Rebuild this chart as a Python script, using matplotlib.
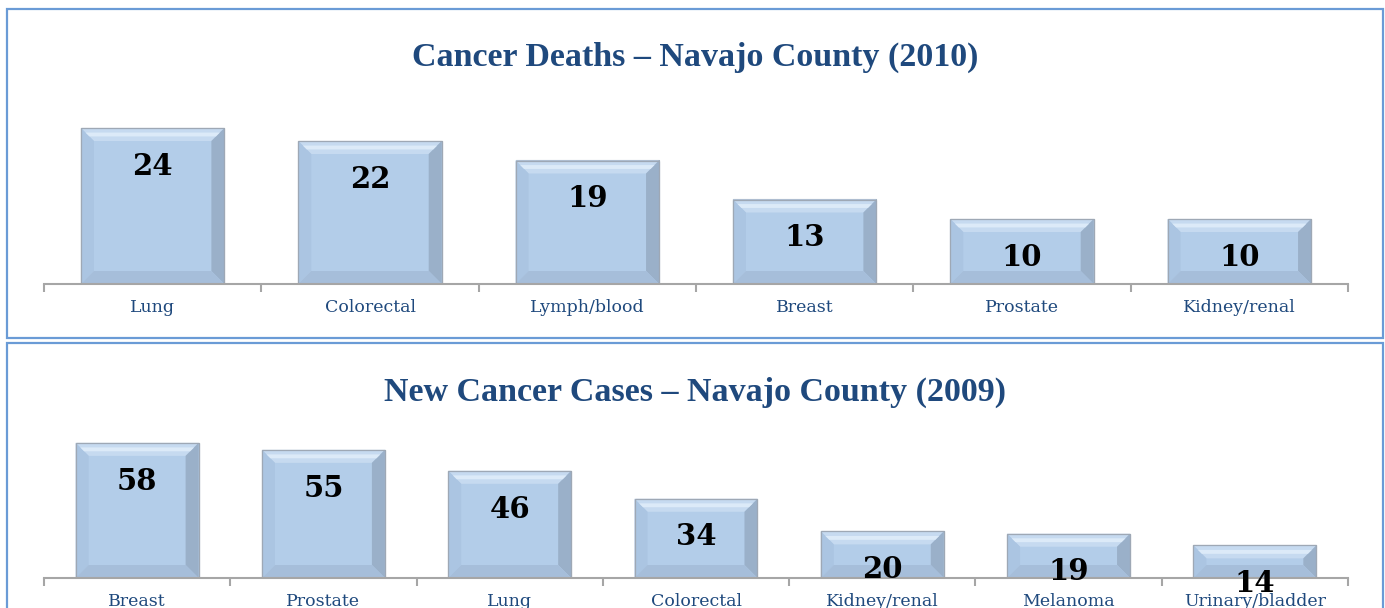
import matplotlib
matplotlib.use("Agg")
import matplotlib.pyplot as plt
from matplotlib.patches import Polygon, Rectangle
import numpy as np

# ---- data ----
deaths_categories = ["Lung", "Colorectal", "Lymph/blood", "Breast", "Prostate", "Kidney/renal"]
deaths_values = [24, 22, 19, 13, 10, 10]
deaths_title = "Cancer Deaths \u2013 Navajo County (2010)"

cases_categories = ["Breast", "Prostate", "Lung", "Colorectal", "Kidney/renal", "Melanoma", "Urinary/bladder"]
cases_values = [58, 55, 46, 34, 20, 19, 14]
cases_title = "New Cancer Cases \u2013 Navajo County (2009)"

W, H = 1385, 608
DPI = 100
fig = plt.figure(figsize=(W / DPI, H / DPI), dpi=DPI)
fig.patch.set_facecolor("white")

TITLE_COLOR = "#1F497D"
LABEL_COLOR = "#1F497D"
FACE = "#B3CDE9"
AXIS_GRAY = "#A6A6A6"
BORDER = "#6A9BD6"
SERIF = "DejaVu Serif"
HEAVY = "Liberation Serif"


def px_rect(x0, y0, x1, y1):
    # pixel coords measured from top-left -> figure fraction
    return [x0 / W, 1 - y1 / H, (x1 - x0) / W, (y1 - y0) / H]


# panel borders
for (x0, y0, x1, y1) in [(7, 9, 1383, 338), (7, 343, 1383, 640)]:
    fig.add_artist(Rectangle((x0 / W, 1 - y1 / H), (x1 - x0) / W, (y1 - y0) / H,
                             transform=fig.transFigure, fill=False,
                             edgecolor=BORDER, linewidth=1.6, clip_on=False))


def draw_chart(ax, cats, vals, ymax, title, title_y):
    n = len(cats)
    x = np.arange(n)
    bars = ax.bar(x, vals, width=0.66, color=FACE, edgecolor="#9DA9B8",
                  linewidth=0.8, zorder=2)
    ax.set_xlim(-0.5, n - 0.5)
    ax.set_ylim(0, ymax)
    for s in ["top", "right", "left"]:
        ax.spines[s].set_visible(False)
    ax.spines["bottom"].set_color(AXIS_GRAY)
    ax.spines["bottom"].set_linewidth(1.5)
    ax.spines["bottom"].set_zorder(5)
    ax.set_yticks([])
    ax.set_xticks(x)
    ax.set_xticklabels(cats, fontsize=12.5, color=LABEL_COLOR, family=SERIF)
    ax.tick_params(axis="x", which="major", length=0, pad=10.5)
    ax.set_xticks(np.arange(n + 1) - 0.5, minor=True)
    ax.tick_params(axis="x", which="minor", length=6, width=1.5, color=AXIS_GRAY, direction="out")
    ax.patch.set_alpha(0)

    fig.canvas.draw()
    inv = ax.transData.inverted()
    b = 13  # bevel in pixels
    for bar in bars:
        bb = bar.get_window_extent()
        x0, y0, x1, y1 = bb.x0, bb.y0, bb.x1, bb.y1
        bv = min(b, (y1 - y0) / 2.2)
        polys = {
            "top": ([(x0, y1), (x1, y1), (x1 - bv, y1 - bv), (x0 + bv, y1 - bv)], "#C6DAF0"),
            "left": ([(x0, y0), (x0, y1), (x0 + bv, y1 - bv), (x0 + bv, y0 + bv)], "#ABC5E2"),
            "right": ([(x1, y0), (x1, y1), (x1 - bv, y1 - bv), (x1 - bv, y0 + bv)], "#9AB0C9"),
            "bottom": ([(x0, y0), (x1, y0), (x1 - bv, y0 + bv), (x0 + bv, y0 + bv)], "#A6BEDA"),
        }
        for key, (pts, col) in polys.items():
            dpts = inv.transform(pts)
            ax.add_patch(Polygon(dpts, closed=True, facecolor=col, edgecolor="none", zorder=3))
        # highlight band in top bevel
        hl = [(x0 + bv * 0.35, y1 - bv * 0.35), (x1 - bv * 0.35, y1 - bv * 0.35),
              (x1 - bv * 0.65, y1 - bv * 0.65), (x0 + bv * 0.65, y1 - bv * 0.65)]
        ax.add_patch(Polygon(inv.transform(hl), closed=True, facecolor="#DCEAF8",
                             edgecolor="none", zorder=3.5))
        # outline
        outline = [(x0, y0), (x0, y1), (x1, y1), (x1, y0)]
        ax.add_patch(Polygon(inv.transform(outline), closed=True, facecolor="none",
                             edgecolor="#9EA8B5", linewidth=0.9, zorder=4))

    for xi, v in zip(x, vals):
        ax.annotate(str(v), xy=(xi, v), xytext=(0, -27.5), textcoords="offset points",
                    ha="center", va="center", fontsize=21, fontweight="bold",
                    family=SERIF, color="black", zorder=6, annotation_clip=False)

    fig.text(0.502, 1 - title_y / H, title, ha="center", va="center",
             fontsize=24.5, fontweight="bold", family=HEAVY, color=TITLE_COLOR)


# top chart: axis at y=284, 6.5 px per unit
ymax1 = 28
ax1 = fig.add_axes(px_rect(44, 284 - ymax1 * 6.5, 1348, 284))
draw_chart(ax1, deaths_categories, deaths_values, ymax1, deaths_title, 57)

# bottom chart: axis at y=578, 2.33 px per unit
ymax2 = 62
ax2 = fig.add_axes(px_rect(44, 578 - ymax2 * 2.33, 1348, 578))
draw_chart(ax2, cases_categories, cases_values, ymax2, cases_title, 392)

fig.savefig("out.png", dpi=DPI)
